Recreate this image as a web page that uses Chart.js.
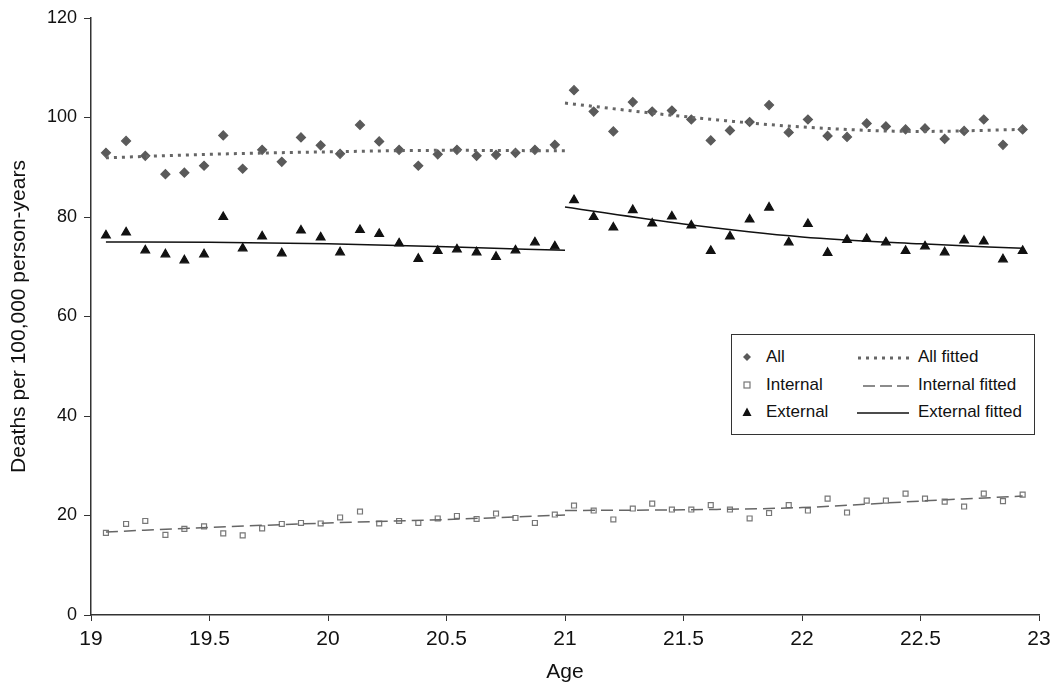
<!DOCTYPE html>
<html>
<head>
<meta charset="utf-8">
<script src="https://cdn.jsdelivr.net/npm/chart.js@4/dist/chart.umd.min.js"></script>
<style>
  body { margin: 0; background: #fff; }
  #wrap { position: relative; width: 1050px; height: 692px; }
  #legend {
    position: absolute; left: 731px; top: 334px; width: 304px; height: 101px;
    border: 1px solid #333; box-sizing: border-box; background: #fff;
    font-family: "Liberation Sans", Arial, sans-serif; font-size: 17px; color: #111;
  }
  .item { position: absolute; line-height: 20px; white-space: nowrap; }
  .item svg { position: absolute; top: 0; }
</style>
</head>
<body>
<div id="wrap">
  <canvas id="chart" width="1050" height="692"></canvas>
  <div id="legend">
    <div class="item" style="left:9px;top:12px"><svg width="12" height="20"><path d="M6 6 L10 10 L6 14 L2 10 Z" fill="#5a5a5a"/></svg><span style="margin-left:25px">All</span></div>
    <div class="item" style="left:9px;top:40px"><svg width="12" height="20"><rect x="3" y="7" width="6" height="6" fill="#fff" stroke="#777" stroke-width="1.2"/></svg><span style="margin-left:25px">Internal</span></div>
    <div class="item" style="left:9px;top:67px"><svg width="12" height="20"><path d="M6 5.5 L10.5 14 L1.5 14 Z" fill="#111"/></svg><span style="margin-left:25px">External</span></div>
    <div class="item" style="left:125px;top:12px"><svg width="52" height="20"><line x1="1" y1="11" x2="52" y2="11" stroke="#666" stroke-width="3" stroke-dasharray="3 5"/></svg><span style="margin-left:61px">All fitted</span></div>
    <div class="item" style="left:125px;top:40px"><svg width="52" height="20"><line x1="6" y1="11" x2="52" y2="11" stroke="#666" stroke-width="1.5" stroke-dasharray="12 5"/></svg><span style="margin-left:61px">Internal fitted</span></div>
    <div class="item" style="left:125px;top:67px"><svg width="52" height="20"><line x1="0" y1="11" x2="52" y2="11" stroke="#111" stroke-width="1.5"/></svg><span style="margin-left:61px">External fitted</span></div>
  </div>
</div>
<script>
// ages of the monthly points, before and after 21
var agesA = [19.063, 19.148, 19.229, 19.314, 19.394, 19.477, 19.558, 19.640, 19.722, 19.805, 19.886, 19.969,
             20.051, 20.135, 20.216, 20.300, 20.381, 20.463, 20.544, 20.627, 20.709, 20.791, 20.873, 20.957];
var agesB = [21.038, 21.121, 21.204, 21.286, 21.368, 21.451, 21.533, 21.615, 21.696, 21.779, 21.861, 21.944,
             22.025, 22.108, 22.190, 22.273, 22.354, 22.437, 22.519, 22.602, 22.684, 22.767, 22.848, 22.931];

var allA = [92.9, 95.3, 92.3, 88.6, 88.9, 90.3, 96.4, 89.7, 93.5, 91.1, 96.0, 94.4,
            92.7, 98.5, 95.2, 93.5, 90.3, 92.6, 93.5, 92.3, 92.5, 92.9, 93.5, 94.5];
var allB = [105.5, 101.2, 97.2, 103.1, 101.2, 101.4, 99.6, 95.4, 97.4, 99.1, 102.5, 97.0,
            99.6, 96.3, 96.1, 98.8, 98.2, 97.6, 97.8, 95.7, 97.3, 99.6, 94.5, 97.6];

var internalA = [16.5, 18.3, 18.9, 16.1, 17.3, 17.8, 16.4, 16.0, 17.4, 18.3, 18.5, 18.4,
                 19.6, 20.8, 18.4, 18.9, 18.5, 19.4, 19.9, 19.3, 20.4, 19.5, 18.5, 20.2];
var internalB = [22.0, 21.0, 19.2, 21.4, 22.4, 21.2, 21.2, 22.1, 21.2, 19.4, 20.5, 22.1,
                 21.0, 23.4, 20.6, 23.0, 23.0, 24.4, 23.4, 22.8, 21.8, 24.4, 22.9, 24.2];

var externalA = [76.3, 76.9, 73.3, 72.5, 71.3, 72.5, 80.0, 73.7, 76.1, 72.7, 77.3, 75.9,
                 72.9, 77.4, 76.6, 74.7, 71.6, 73.2, 73.5, 72.9, 72.0, 73.3, 74.9, 74.1];
var externalB = [83.4, 80.0, 77.9, 81.4, 78.7, 80.1, 78.3, 73.2, 76.1, 79.5, 81.9, 74.9,
                 78.6, 72.8, 75.4, 75.6, 74.9, 73.2, 74.1, 72.9, 75.3, 75.1, 71.5, 73.2];

// fitted curves, read at a few ages
var fitAgesA = [19.063, 19.5, 20, 20.5, 21.0];
var fitAgesB = [21.0, 21.5, 22, 22.5, 22.931];
var allFitA = [91.9, 92.6, 93.1, 93.4, 93.3];
var allFitB = [102.9, 100.2, 98.1, 97.2, 97.6];
var intFitA = [16.7, 17.6, 18.5, 19.2, 20.1];
var intFitB = [21.0, 21.15, 21.6, 22.9, 23.9];
var extFitA = [75.0, 74.9, 74.6, 74.0, 73.3];
var extFitB = [82.0, 78.6, 76.0, 74.6, 73.7];

var xTicks = [19, 19.5, 20, 20.5, 21, 21.5, 22, 22.5, 23];

function pts(xs, ys) {
    return xs.map(function(x, i) { return {x: x, y: ys[i]}; });
}

function pointSet(data, style, color, fill, r) {
    return {
        data: data, showLine: false, pointStyle: style, pointRadius: r,
        pointBackgroundColor: fill, pointBorderColor: color, pointBorderWidth: 1.2
    };
}

function fitSet(data, color, width, dash) {
    return {
        data: data, showLine: true, pointRadius: 0, borderColor: color,
        borderWidth: width, borderDash: dash, cubicInterpolationMode: 'monotone', fill: false
    };
}

var font = "'Liberation Sans', Arial, sans-serif";

new Chart(document.getElementById('chart'), {
    type: 'scatter',
    data: {
        datasets: [
            fitSet(pts(fitAgesA, allFitA), '#666', 3, [3, 5]),
            fitSet(pts(fitAgesB, allFitB), '#666', 3, [3, 5]),
            fitSet(pts(fitAgesA, intFitA), '#666', 1.5, [12, 6]),
            fitSet(pts(fitAgesB, intFitB), '#666', 1.5, [12, 6]),
            fitSet(pts(fitAgesA, extFitA), '#111', 1.5, []),
            fitSet(pts(fitAgesB, extFitB), '#111', 1.5, []),
            pointSet(pts(agesA, allA), 'rectRot', '#5a5a5a', '#5a5a5a', 4.5),
            pointSet(pts(agesB, allB), 'rectRot', '#5a5a5a', '#5a5a5a', 4.5),
            pointSet(pts(agesA, internalA), 'rect', '#777', '#fff', 3.5),
            pointSet(pts(agesB, internalB), 'rect', '#777', '#fff', 3.5),
            pointSet(pts(agesA, externalA), 'triangle', '#111', '#111', 5),
            pointSet(pts(agesB, externalB), 'triangle', '#111', '#111', 5)
        ]
    },
    options: {
        responsive: false,
        animation: false,
        layout: { padding: { top: 18, right: 11, left: 0, bottom: 0 } },
        plugins: { legend: { display: false }, tooltip: { enabled: false } },
        scales: {
            x: {
                type: 'linear', min: 19, max: 23,
                afterBuildTicks: function(scale) {
                    scale.ticks = xTicks.map(function(v) { return {value: v}; });
                },
                afterFit: function(scale) {
                    scale.height = 77;
                    scale.paddingLeft = 0;
                    scale.paddingRight = 0;
                },
                grid: { display: true, drawOnChartArea: false, drawTicks: true, tickLength: 6, color: '#333' },
                border: { display: true, color: '#333', width: 1.5 },
                ticks: {
                    color: '#111', padding: 6, maxRotation: 0, font: { family: font, size: 21 },
                    callback: function(v) { return String(v); }
                },
                title: { display: true, text: 'Age', color: '#111', padding: { bottom: 7 }, font: { family: font, size: 21 } }
            },
            y: {
                min: 0, max: 120,
                ticks: { stepSize: 20, color: '#111', padding: 7, font: { family: font, size: 18 } },
                afterFit: function(scale) {
                    scale.width = 91;
                    scale.paddingTop = 0;
                    scale.paddingBottom = 0;
                },
                grid: { display: true, drawOnChartArea: false, drawTicks: true, tickLength: 7, color: '#333' },
                border: { display: true, color: '#333', width: 1.5 },
                title: { display: true, text: 'Deaths per 100,000 person-years', color: '#111', padding: { top: 7 }, font: { family: font, size: 21 } }
            }
        }
    }
});
</script>
</body>
</html>
